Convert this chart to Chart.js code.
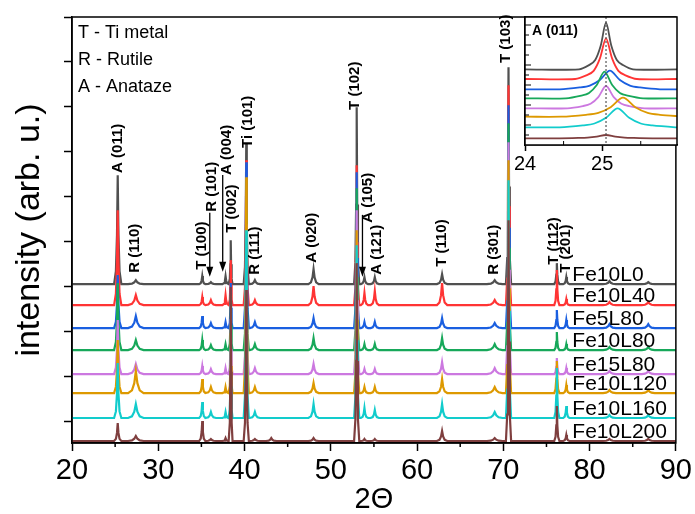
<!DOCTYPE html>
<html>
<head>
<meta charset="utf-8">
<script src="https://cdn.jsdelivr.net/npm/chart.js@4/dist/chart.umd.min.js"></script>
<style>
  body { margin: 0; background: #fff; }
  #wrap { position: relative; width: 695px; height: 514px; }
  #chart { position: absolute; left: 0; top: 0; }
  #inset { position: absolute; left: 480px; top: 0; }
</style>
</head>
<body>
<div id="wrap">
  <canvas id="chart" width="695" height="514"></canvas>
  <canvas id="inset" width="215" height="185"></canvas>
</div>
<script>
// samples, stacked from top to bottom
const sampleNames = ['Fe10L0', 'Fe10L40', 'Fe5L80', 'Fe10L80', 'Fe15L80', 'Fe10L120', 'Fe10L160', 'Fe10L200'];
const sampleColors = ['#505050', '#ff3434', '#1a5fe0', '#17a85a', '#cc78e0', '#dd9900', '#12cccc', '#7f3f3f'];
// vertical offset of each pattern (arb. u.)
const offsets = [137.7, 116.7, 93.7, 71.7, 47.7, 28.7, 3.7, -19.3];

// reflections (2theta) and their half widths
const peakPos =   [25.3, 27.4, 35.1, 36.1, 37.8, 38.4, 40.2, 41.2, 43.1, 48.0, 53.0, 53.9, 55.1, 62.9, 69.0, 70.6, 76.2, 77.3, 82.3, 86.8];
const peakWidth = [0.14, 0.30, 0.12, 0.20, 0.12, 0.07, 0.10, 0.20, 0.20, 0.20, 0.10, 0.14, 0.16, 0.20, 0.30, 0.10, 0.10, 0.12, 0.25, 0.25];

// peak heights per sample (arb. u.), same order as peakPos
const hFe10L0   = [109,  4,  8, 2,  8,  44, 141, 4, 0, 15, 177,  7,  7, 10, 4, 217, 21,  7, 3, 2];
const hFe10L40  = [ 95, 10,  8, 5, 10,  45, 145, 5, 0, 19, 140, 12, 14, 22, 5, 220, 35,  6, 3, 3];
const hFe5L80   = [ 53, 12, 12, 5,  6,  45, 166, 6, 0, 10, 156,  6,  6, 10, 5, 223, 18,  8, 4, 4];
const hFe10L80  = [ 67, 10, 10, 5,  6,  55, 137, 6, 0, 12, 162,  6,  6, 12, 6, 227, 18,  6, 3, 3];
const hFe15L80  = [ 54, 10,  8, 5,  6,  55, 150, 6, 0, 10, 164,  5,  5, 12, 6, 232, 16,  6, 3, 3];
const hFe10L120 = [ 53, 22, 14, 6,  6,  60, 216, 6, 0, 10, 163,  6,  6, 14, 6, 233, 32,  8, 3, 3];
const hFe10L160 = [ 55, 14, 16, 6,  6,  70, 188, 6, 0, 14, 173, 10,  8, 14, 6, 238, 50, 12, 3, 3];
const hFe10L200 = [ 18,  5, 20, 2,  3, 154, 151, 2, 3,  3, 178,  2,  2, 10, 3, 221, 35,  6, 2, 2];
const heights = [hFe10L0, hFe10L40, hFe5L80, hFe10L80, hFe15L80, hFe10L120, hFe10L160, hFe10L200];

// inset: A (011) region
const insetBase   = [7.57, 6.60, 5.57, 4.67, 3.67, 2.83, 1.77, 0.67];
const insetCenter = [25.05, 25.05, 25.10, 25.03, 25.05, 25.27, 25.20, 25.05];
const insetHeight = [4.66, 4.07, 1.86, 2.66, 2.23, 1.90, 1.90, 0.33];
const insetWidth  = [0.07, 0.08, 0.13, 0.10, 0.10, 0.16, 0.15, 0.12];

const xTicks = [20, 30, 40, 50, 60, 70, 80, 90];
const insetTicks = [24, 25];

// peak outline: [offset in half widths, fraction of height]
const shape = [[-3, 0], [-1.5, 0.12], [-0.6, 0.45], [0, 1], [0.6, 0.45], [1.5, 0.12], [3, 0]];
const insetShape = [[-5, 0], [-3, 0.1], [-2, 0.2], [-1, 0.5], [0, 1], [1, 0.5], [2, 0.2], [3, 0.1], [5, 0]];

const FONT = '"Liberation Sans", Arial, sans-serif';
Chart.defaults.font.family = FONT;
Chart.defaults.color = '#000';

function pattern(h, off) {
  let pts = [{x: 20, y: off}];
  peakPos.forEach((c, i) => {
    if (!h[i]) return;
    shape.forEach(([d, f]) => pts.push({x: c + d * peakWidth[i], y: off + f * h[i]}));
  });
  pts.push({x: 90, y: off});
  return pts;
}

function insetPattern(i) {
  let pts = [{x: 24, y: insetBase[i]}];
  insetShape.forEach(([d, f]) => pts.push({
    x: insetCenter[i] + d * insetWidth[i],
    y: insetBase[i] + f * insetHeight[i]
  }));
  pts.push({x: 26, y: insetBase[i]});
  return pts;
}

// labels of the reflections: text, 2theta, bottom of text (arb. u.)
const peakNotes = [
  ['A (011)', 25.32, 249], ['R (110)', 27.29, 149], ['T (100)', 35.04, 152],
  ['R (101)', 36.2, 210], ['A (004)', 37.93, 247], ['T (002)', 38.51, 189],
  ['Ti (101)', 40.36, 274], ['R (111)', 41.17, 147], ['A (020)', 47.77, 159],
  ['T (102)', 52.74, 312], ['A (105)', 54.25, 199], ['A (121)', 55.29, 147],
  ['T (110)', 62.93, 155], ['R (301)', 68.94, 147], ['T (103)', 70.33, 359],
  ['T (112)', 75.88, 157], ['T (201)', 77.27, 149]
];
// arrows: 2theta, from, to
const arrows = [[35.97, 209, 145], [37.47, 247, 150], [53.67, 207, 145]];
const keyLines = ['T - Ti metal', 'R - Rutile', 'A - Anataze'];

const mainDecor = {
  id: 'mainDecor',
  afterDraw(chart) {
    const {ctx, chartArea: a, scales: {x, y}} = chart;
    ctx.save();
    ctx.strokeStyle = '#000';
    ctx.fillStyle = '#000';
    ctx.lineWidth = 1.5;
    ctx.strokeRect(a.left, a.top, a.right - a.left, a.bottom - a.top);
    // minor x ticks
    ctx.beginPath();
    for (let v = 25; v < 90; v += 10) {
      const px = x.getPixelForValue(v);
      ctx.moveTo(px, a.bottom);
      ctx.lineTo(px, a.bottom + 4);
    }
    ctx.stroke();

    ctx.font = 'bold 15px ' + FONT;
    ctx.textAlign = 'left';
    ctx.textBaseline = 'middle';
    peakNotes.forEach(([t, tx, ty]) => {
      ctx.save();
      ctx.translate(x.getPixelForValue(tx), y.getPixelForValue(ty));
      ctx.rotate(-Math.PI / 2);
      ctx.fillText(t, 0, 0);
      ctx.restore();
    });

    ctx.lineWidth = 1.3;
    arrows.forEach(([ax, from, to]) => {
      const px = x.getPixelForValue(ax);
      const y1 = y.getPixelForValue(from), y2 = y.getPixelForValue(to);
      ctx.beginPath();
      ctx.moveTo(px, y1);
      ctx.lineTo(px, y2 - 8);
      ctx.stroke();
      ctx.beginPath();
      ctx.moveTo(px - 3.5, y2 - 10);
      ctx.lineTo(px + 3.5, y2 - 10);
      ctx.lineTo(px, y2);
      ctx.closePath();
      ctx.fill();
    });

    ctx.font = '18px ' + FONT;
    keyLines.forEach((t, i) => ctx.fillText(t, a.left + 6, a.top + 16 + 27 * i));

    ctx.font = '21px ' + FONT;
    sampleNames.forEach((n, i) => {
      ctx.fillText(n, x.getPixelForValue(78), y.getPixelForValue(offsets[i] + 9));
    });
    ctx.restore();
  }
};

new Chart(document.getElementById('chart'), {
  type: 'line',
  data: {
    datasets: sampleNames.map((n, i) => ({
      label: n,
      data: pattern(heights[i], offsets[i]),
      borderColor: sampleColors[i],
      borderWidth: 2.2,
      pointRadius: 0,
      tension: 0,
      order: 8 - i
    }))
  },
  options: {
    responsive: false,
    animation: false,
    events: [],
    layout: {padding: {top: 17, right: 18, left: 0, bottom: 0}},
    plugins: {legend: {display: false}, tooltip: {enabled: false}},
    scales: {
      x: {
        type: 'linear',
        min: 20,
        max: 90,
        afterFit: s => { s.height = 71; },
        ticks: {
          stepSize: 5,
          autoSkip: false,
          maxRotation: 0,
          padding: 3,
          font: {size: 29},
          callback: v => xTicks.includes(Math.round(v)) && Math.abs(v - Math.round(v)) < 1e-6 ? String(Math.round(v)) : ''
        },
        grid: {
          drawOnChartArea: false,
          tickLength: 8,
          tickWidth: 1.5,
          tickColor: c => (c.tick && Math.round(c.tick.value) % 10 === 0) ? '#000' : 'rgba(0,0,0,0)'
        },
        border: {color: '#000', width: 1.5},
        title: {
          display: true,
          text: '2\u0398',
          font: {size: 29, lineHeight: 1},
          padding: {top: 0, bottom: 0}
        }
      },
      y: {
        min: -21.3,
        max: 405,
        afterFit: s => { s.width = 72; },
        ticks: {stepSize: 45, includeBounds: false, display: false},
        grid: {drawOnChartArea: false, tickLength: 8, tickWidth: 1.5, tickColor: '#000'},
        border: {color: '#000', width: 1.5},
        title: {
          display: true,
          text: 'intensity (arb. u.)',
          font: {size: 34},
          padding: {top: 9, bottom: 0}
        }
      }
    }
  },
  plugins: [mainDecor]
});

const insetDecor = {
  id: 'insetDecor',
  beforeDatasetsDraw(chart) {
    const {ctx, chartArea: a} = chart;
    ctx.save();
    ctx.fillStyle = '#fff';
    ctx.fillRect(a.left, a.top, a.right - a.left, a.bottom - a.top);
    ctx.restore();
  },
  afterDatasetsDraw(chart) {
    const {ctx, chartArea: a, scales: {x}} = chart;
    ctx.save();
    ctx.strokeStyle = '#555';
    ctx.lineWidth = 1.2;
    ctx.setLineDash([2, 2]);
    const px = x.getPixelForValue(25.05);
    ctx.beginPath();
    ctx.moveTo(px, a.top);
    ctx.lineTo(px, a.bottom);
    ctx.stroke();
    ctx.restore();
  },
  afterDraw(chart) {
    const {ctx, chartArea: a, scales: {x, y}} = chart;
    ctx.save();
    ctx.strokeStyle = '#000';
    ctx.lineWidth = 1.5;
    ctx.strokeRect(a.left, a.top, a.right - a.left, a.bottom - a.top);
    ctx.lineWidth = 1;
    ctx.beginPath();
    for (let v = 1; v <= 12; v++) {
      const py = y.getPixelForValue(v);
      ctx.moveTo(a.left, py);
      ctx.lineTo(a.left + (v % 2 ? 4 : 6), py);
    }
    [24.5, 25.5].forEach(v => {
      const p = x.getPixelForValue(v);
      ctx.moveTo(p, a.bottom);
      ctx.lineTo(p, a.bottom - 4);
    });
    ctx.stroke();
    ctx.fillStyle = '#000';
    ctx.font = 'bold 14px ' + FONT;
    ctx.textBaseline = 'middle';
    ctx.fillText('A (011)', a.left + 7, a.top + 14);
    ctx.restore();
  }
};

new Chart(document.getElementById('inset'), {
  type: 'line',
  data: {
    datasets: sampleNames.map((n, i) => ({
      label: n,
      data: insetPattern(i),
      borderColor: sampleColors[i],
      borderWidth: 1.8,
      pointRadius: 0,
      tension: 0.3,
      order: 8 - i
    }))
  },
  options: {
    responsive: false,
    animation: false,
    events: [],
    layout: {padding: {top: 17, right: 18, left: 0, bottom: 0}},
    plugins: {legend: {display: false}, tooltip: {enabled: false}},
    scales: {
      x: {
        type: 'linear',
        min: 24,
        max: 25.97,
        afterFit: s => { s.height = 40; },
        afterBuildTicks: s => { s.ticks = insetTicks.map(v => ({value: v})); },
        ticks: {
          autoSkip: false,
          maxRotation: 0,
          padding: 1,
          font: {size: 20},
          callback: v => String(v)
        },
        grid: {drawOnChartArea: false, tickLength: 6, tickWidth: 1.5, tickColor: '#000'},
        border: {color: '#000', width: 1.5}
      },
      y: {
        min: 0,
        max: 12.8,
        afterFit: s => { s.width = 45; },
        ticks: {display: false},
        grid: {display: false},
        border: {color: '#000', width: 1.5}
      }
    }
  },
  plugins: [insetDecor]
});
</script>
</body>
</html>
